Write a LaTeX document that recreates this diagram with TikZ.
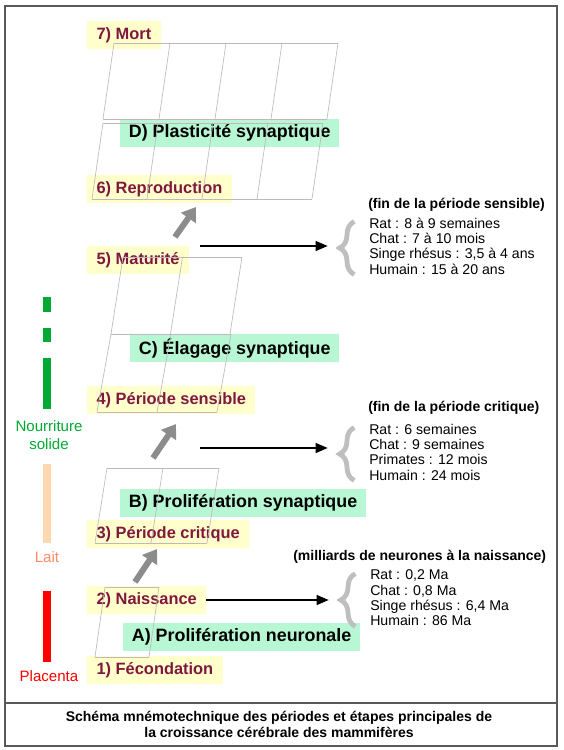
\documentclass[tikz,border=0pt]{standalone}
\usepackage{fontspec}
\setmainfont{Liberation Sans}
\usetikzlibrary{arrows.meta,decorations.pathreplacing,calc}

\definecolor{jaune}{HTML}{FFFFCC}
\definecolor{menthe}{HTML}{B8F7D4}
\definecolor{bordeaux}{HTML}{80173F}
\definecolor{grille}{RGB}{192,184,188}
\definecolor{grisfleche}{HTML}{8C8C8C}
\definecolor{vertsolide}{HTML}{00A933}
\definecolor{peche}{HTML}{FFD8B2}
\definecolor{saumon}{HTML}{FF8A66}
\definecolor{rouge}{HTML}{FF0000}

% une rangee de cellules : x bas, y bas, y haut, decalage, largeur, nombre
\newcommand{\rangee}[6]{%
  \draw[grillefine] (#1,#2) -- ++(#6*#5,0);
  \draw[grillefine] (#1+#4,#3) -- ++(#6*#5,0);
  \foreach \i in {0,...,#6} \draw[grillefine] (#1+\i*#5,#2) -- (#1+#4+\i*#5,#3);
}

\begin{document}
\begin{tikzpicture}[x=0.75pt,y=-0.75pt,
  etape/.style={fill=jaune, text=bordeaux, anchor=west, inner xsep=7pt,
    minimum height=20.5pt, font=\bfseries\fontsize{12.3}{14}\selectfont},
  zone/.style={fill=menthe, anchor=west, inner xsep=6.5pt,
    minimum height=21pt, font=\bfseries\fontsize{13.4}{15}\selectfont},
  titre/.style={anchor=west, inner sep=0pt, font=\bfseries\fontsize{10.5}{12}\selectfont},
  liste/.style={anchor=west, align=left, inner sep=0pt, font=\fontsize{10.6}{11.5}\selectfont},
  cote/.style={align=center, inner sep=0pt, font=\fontsize{11.3}{13.5}\selectfont},
  grillefine/.style={draw=grille, line width=0.5pt},
  fleche/.style={-{Triangle[length=9pt,width=7.5pt]}, line width=0.8pt},
  grosse/.style={-{Triangle[length=10pt,width=13pt]}, line width=4.5pt, draw=grisfleche},
  accolade/.style={decorate, decoration={brace, amplitude=11pt}, line width=3.6pt, draw=gray!50},
  cadre/.style={draw=black!65, line width=1.1pt}]

  \useasboundingbox (0,0) rectangle (564,750);

  % Cadre et legende
  \draw[cadre] (5,6) rectangle (557,746);
  \draw[cadre] (5,703) -- (557,703);
  \node[align=center, font=\bfseries\fontsize{10.5}{12}\selectfont] (legende) at (279,724)
    {Schéma mnémotechnique des périodes et étapes principales de\\la croissance cérébrale des mammifères};

  % Alimentation
  \fill[vertsolide] (43,297) rectangle (51,312);
  \fill[vertsolide] (43,328) rectangle (51,342);
  \fill[vertsolide] (43,358) rectangle (51,409);
  \fill[peche] (43,464) rectangle (51,543);
  \fill[rouge] (43,591) rectangle (51,662);
  \node[cote, text=vertsolide] (nourriture) at (49,435) {Nourriture\\solide};
  \node[cote, text=saumon] (lait) at (47,557) {Lait};
  \node[cote, text=rouge] (placenta) at (49,676) {Placenta};

  % Etapes
  \node[etape] (mort) at (87,35) {7) Mort};
  \node[etape] (reproduction) at (87,189) {6) Reproduction};
  \node[etape] (maturite) at (87,260) {5) Maturité};
  \node[etape] (sensible) at (87,400) {4) Période sensible};
  \node[etape] (critique) at (87,534) {3) Période critique};
  \node[etape] (naissance) at (87,600) {2) Naissance};
  \node[etape] (fecondation) at (87,670) {1) Fécondation};

  % Periodes
  \node[zone] (plasticite) at (120,133) {D) Plasticité synaptique};
  \node[zone] (elagage) at (130,348) {C) Élagage synaptique};
  \node[zone] (synaptique) at (120,503) {B) Prolifération synaptique};
  \node[zone] (neuronale) at (123,637) {A) Prolifération neuronale};

  % Grilles
  \rangee{103}{119}{43}{11}{56}{4}
  \rangee{92}{199}{123}{11}{55}{4}
  \rangee{111}{334}{257}{12}{59.5}{2}
  \rangee{97}{412}{334}{14}{60}{2}
  \rangee{95}{543}{468}{12}{56}{2}
  \rangee{95}{657}{587}{10}{54}{1}

  % Grosses fleches
  \coordinate (g1a) at (175,237);
  \coordinate (g1b) at (196,207);
  \coordinate (g2a) at (153,458);
  \coordinate (g2b) at (176,424);
  \coordinate (g3a) at (135,582);
  \coordinate (g3b) at (157,549);
  \draw[grosse] (g1a) -- (g1b);
  \draw[grosse] (g2a) -- (g2b);
  \draw[grosse] (g3a) -- (g3b);

  % Fin de la periode sensible
  \node[titre] (titre1) at (368,205) {(fin de la période sensible)};
  \node[liste] (liste1) at (369,246)
    {Rat : 8 à 9 semaines\\Chat : 7 à 10 mois\\Singe rhésus : 3,5 à 4 ans\\Humain : 15 à 20 ans};
  \draw[accolade] ([xshift=-11pt]liste1.south west) -- ([xshift=-11pt,yshift=-3pt]liste1.north west);
  \coordinate (d1) at (200,246);
  \coordinate (b1) at ([xshift=-31pt]liste1.west);
  \draw[fleche] (d1) -- (d1 -| b1);

  % Fin de la periode critique
  \node[titre] (titre2) at (368,408) {(fin de la période critique)};
  \node[liste] (liste2) at (369,452)
    {Rat : 6 semaines\\Chat : 9 semaines\\Primates : 12 mois\\Humain : 24 mois};
  \draw[accolade] ([xshift=-11pt]liste2.south west) -- ([xshift=-11pt,yshift=-3pt]liste2.north west);
  \coordinate (d2) at (200,448);
  \coordinate (b2) at ([xshift=-31pt]liste2.west);
  \draw[fleche] (d2) -- (d2 -| b2);

  % Neurones a la naissance
  \node[titre] (titre3) at (293,557) {(milliards de neurones à la naissance)};
  \node[liste] (liste3) at (370,598)
    {Rat : 0,2 Ma\\Chat : 0,8 Ma\\Singe rhésus : 6,4 Ma\\Humain : 86 Ma};
  \draw[accolade] ([xshift=-11pt]liste3.south west) -- ([xshift=-11pt,yshift=-3pt]liste3.north west);
  \coordinate (b3) at ([xshift=-31pt]liste3.west);
  \draw[fleche] (naissance.east) -- (naissance.east -| b3);
\end{tikzpicture}
\end{document}
